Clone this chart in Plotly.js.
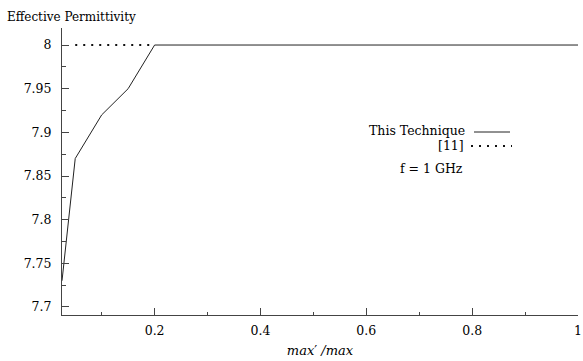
<!DOCTYPE html>
<html><head><meta charset="utf-8">
<script src="https://cdn.plot.ly/plotly-3.0.1.min.js"></script>
<style>html,body{margin:0;padding:0;background:#fff}</style>
</head><body><div id="chart" style="width:583px;height:361px"></div>
<script>
const techX = [0.025, 0.05, 0.1, 0.15, 0.2, 1.0];
const techY = [7.73, 7.87, 7.92, 7.95, 8.0, 8.0];
const refX = [0.05, 0.2];
const refY = [8.0, 8.0];
const seriesNames = ["This Technique", "[11]"];
const noteText = "f = 1 GHz";

const F = "'DejaVu Serif', 'Liberation Serif', serif";
const px = v => (v - 62) / 516;
const py = v => (315 - v) / 287;

const traces = [
  {x: techX, y: techY, mode: "lines", name: seriesNames[0], line: {color: "#222", width: 1}},
  {x: refX, y: refY, mode: "lines", name: seriesNames[1], line: {color: "#111", width: 2, dash: "2px,6px"}}
];

const layout = {
  width: 583, height: 361,
  margin: {l: 62, r: 5, t: 28, b: 46},
  paper_bgcolor: "#fff", plot_bgcolor: "#fff",
  showlegend: false,
  font: {family: F, size: 12.5, color: "#000"},
  title: {text: "Effective Permittivity", x: 7/583, xanchor: "left", xref: "container", y: 1 - 17/361, yanchor: "middle", font: {family: F, size: 12, color: "#000"}},
  xaxis: {
    range: [0.025, 1], tick0: 0, dtick: 0.2, ticks: "inside", ticklen: 7, tickcolor: "#444",
    showline: true, linecolor: "#444", linewidth: 1, showgrid: false, zeroline: false,
    ticklabelstandoff: 4,
    minor: {dtick: 0.1, ticks: "inside", ticklen: 3, tickcolor: "#444"},
    title: {text: "<i>max</i>′ <i>/max</i>", standoff: 8, font: {family: F, size: 13, color: "#000"}},
    fixedrange: true
  },
  yaxis: {
    range: [7.6908, 8.0195], tick0: 7.7, dtick: 0.05, ticks: "inside", ticklen: 7, tickcolor: "#444",
    showline: true, linecolor: "#444", linewidth: 1, showgrid: false, zeroline: false,
    ticklabelstandoff: 7,
    minor: {dtick: 0.025, ticks: "inside", ticklen: 4, tickcolor: "#444"},
    fixedrange: true
  },
  annotations: [
    {xref: "paper", yref: "paper", x: px(467), y: py(130), xanchor: "right", yanchor: "middle", text: seriesNames[0], showarrow: false, font: {family: F, size: 12.5, color: "#000"}},
    {xref: "paper", yref: "paper", x: px(466), y: py(145), xanchor: "right", yanchor: "middle", text: seriesNames[1], showarrow: false, font: {family: F, size: 12.5, color: "#000"}},
    {xref: "paper", yref: "paper", x: px(465), y: py(168), xanchor: "right", yanchor: "middle", text: noteText, showarrow: false, font: {family: F, size: 12.5, color: "#000"}}
  ],
  shapes: [
    {type: "line", xref: "paper", yref: "paper", x0: px(474), x1: px(510), y0: py(132), y1: py(132), line: {color: "#222", width: 1}},
    {type: "line", xref: "paper", yref: "paper", x0: px(471), x1: px(512), y0: py(146), y1: py(146), line: {color: "#111", width: 2, dash: "2px,6px"}}
  ]
};
Plotly.newPlot("chart", traces, layout, {displayModeBar: false, staticPlot: true});
</script></body></html>
